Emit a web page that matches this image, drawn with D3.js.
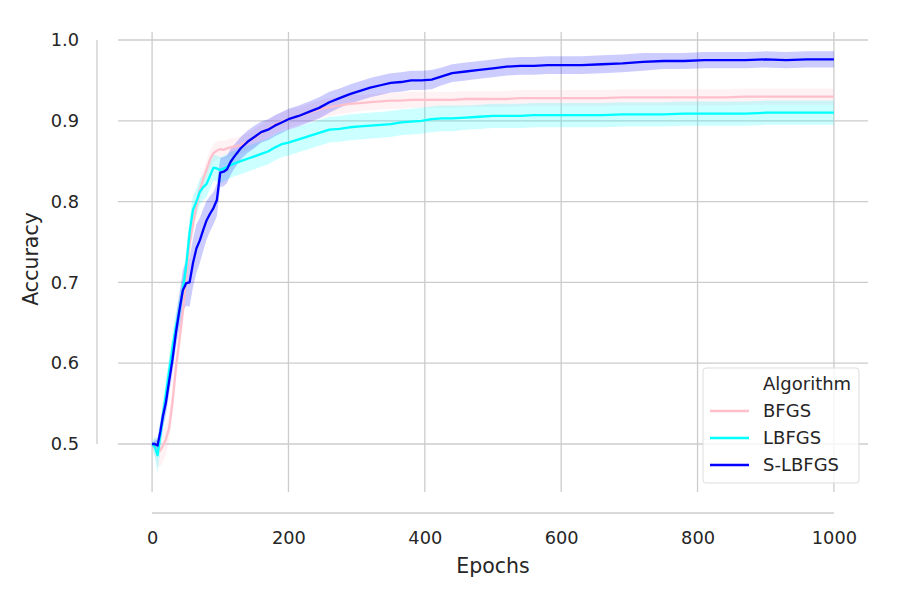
<!DOCTYPE html>
<html>
<head>
<meta charset="utf-8">
<script src="https://cdn.jsdelivr.net/npm/d3@7"></script>
<style>
  body { margin: 0; background: #fff; }
  text { font-family: "DejaVu Sans", sans-serif; fill: #262626; }
</style>
</head>
<body>
<div id="chart"></div>
<script>
// data
var epochs = [0, 4, 8, 12, 16, 20, 25, 30, 35, 40, 45, 50, 55, 60, 65, 70, 75, 80, 85, 90,
  95, 100, 105, 110, 115, 120, 130, 140, 150, 160, 170, 180, 190, 200, 215, 230, 245, 260,
  275, 290, 305, 320, 335, 350, 365, 380, 395, 410, 425, 440, 460, 480, 500, 520, 540, 560,
  580, 600, 630, 660, 690, 720, 750, 780, 810, 840, 870, 900, 930, 960, 1000];

var bfgs = [0.500, 0.495, 0.490, 0.492, 0.498, 0.505, 0.520, 0.552, 0.595, 0.628, 0.663, 0.705,
  0.748, 0.772, 0.795, 0.814, 0.828, 0.840, 0.852, 0.860, 0.863, 0.865, 0.864, 0.866, 0.867,
  0.868, 0.870, 0.874, 0.879, 0.885, 0.890, 0.895, 0.899, 0.902, 0.906, 0.910, 0.914, 0.917,
  0.919, 0.921, 0.922, 0.923, 0.924, 0.925, 0.925, 0.926, 0.926, 0.926, 0.926, 0.926, 0.927,
  0.927, 0.927, 0.927, 0.928, 0.928, 0.928, 0.928, 0.928, 0.928, 0.929, 0.929, 0.929, 0.929,
  0.929, 0.929, 0.930, 0.930, 0.930, 0.930, 0.930];
var bfgsSd = [0.004, 0.012, 0.018, 0.02, 0.02, 0.018, 0.016, 0.016, 0.016, 0.016, 0.016, 0.016,
  0.015, 0.014, 0.014, 0.013, 0.012, 0.012, 0.012, 0.011, 0.011, 0.011, 0.011, 0.011, 0.011,
  0.011, 0.011, 0.011, 0.011, 0.011, 0.011, 0.011, 0.011, 0.011, 0.011, 0.011, 0.011, 0.011,
  0.011, 0.011, 0.01, 0.01, 0.01, 0.01, 0.01, 0.01, 0.01, 0.01, 0.01, 0.01, 0.01, 0.01, 0.01,
  0.01, 0.01, 0.01, 0.01, 0.01, 0.01, 0.01, 0.01, 0.01, 0.01, 0.01, 0.01, 0.01, 0.01, 0.01,
  0.01, 0.01, 0.01];

var lbfgs = [0.500, 0.496, 0.486, 0.510, 0.535, 0.560, 0.590, 0.620, 0.645, 0.665, 0.690, 0.720,
  0.762, 0.790, 0.800, 0.812, 0.818, 0.822, 0.832, 0.842, 0.841, 0.839, 0.841, 0.843, 0.845,
  0.847, 0.850, 0.853, 0.856, 0.859, 0.862, 0.867, 0.871, 0.873, 0.877, 0.881, 0.885, 0.889,
  0.890, 0.892, 0.893, 0.894, 0.895, 0.896, 0.898, 0.899, 0.900, 0.902, 0.903, 0.903, 0.904,
  0.905, 0.906, 0.906, 0.906, 0.907, 0.907, 0.907, 0.907, 0.907, 0.908, 0.908, 0.908, 0.909,
  0.909, 0.909, 0.909, 0.910, 0.910, 0.910, 0.910];
var lbfgsSd = [0.004, 0.012, 0.022, 0.02, 0.018, 0.018, 0.018, 0.018, 0.018, 0.018, 0.018, 0.018,
  0.018, 0.017, 0.016, 0.016, 0.016, 0.016, 0.016, 0.016, 0.016, 0.016, 0.016, 0.016, 0.016,
  0.016, 0.016, 0.016, 0.016, 0.016, 0.016, 0.016, 0.016, 0.016, 0.016, 0.016, 0.016, 0.016,
  0.016, 0.016, 0.016, 0.016, 0.016, 0.016, 0.016, 0.016, 0.016, 0.016, 0.016, 0.016, 0.015,
  0.015, 0.015, 0.015, 0.015, 0.015, 0.015, 0.015, 0.015, 0.015, 0.015, 0.015, 0.015, 0.015,
  0.015, 0.015, 0.015, 0.015, 0.015, 0.015, 0.015];

var slbfgs = [0.500, 0.500, 0.498, 0.515, 0.535, 0.550, 0.578, 0.605, 0.638, 0.665, 0.690, 0.699,
  0.700, 0.724, 0.742, 0.752, 0.765, 0.777, 0.785, 0.792, 0.802, 0.836, 0.837, 0.840, 0.849,
  0.855, 0.866, 0.874, 0.880, 0.886, 0.889, 0.894, 0.898, 0.902, 0.906, 0.911, 0.916, 0.923,
  0.928, 0.933, 0.937, 0.941, 0.944, 0.947, 0.948, 0.950, 0.950, 0.951, 0.955, 0.959, 0.961,
  0.963, 0.965, 0.967, 0.968, 0.968, 0.969, 0.969, 0.969, 0.970, 0.971, 0.973, 0.974, 0.974,
  0.975, 0.975, 0.975, 0.976, 0.975, 0.976, 0.976];
var slbfgsSd = [0.002, 0.004, 0.008, 0.012, 0.014, 0.015, 0.016, 0.016, 0.018, 0.022, 0.025, 0.028,
  0.03, 0.03, 0.03, 0.028, 0.026, 0.024, 0.022, 0.02, 0.02, 0.018, 0.018, 0.017, 0.016,
  0.015, 0.014, 0.014, 0.014, 0.013, 0.013, 0.013, 0.013, 0.013, 0.013, 0.013, 0.013, 0.013,
  0.012, 0.012, 0.012, 0.012, 0.012, 0.012, 0.012, 0.012, 0.012, 0.012, 0.011, 0.011, 0.011,
  0.011, 0.011, 0.011, 0.011, 0.011, 0.011, 0.011, 0.011, 0.011, 0.011, 0.011, 0.01, 0.01,
  0.01, 0.01, 0.01, 0.01, 0.01, 0.01, 0.01];

var names = ["BFGS", "LBFGS", "S-LBFGS"];
var colors = ["#ffc0cb", "#00ffff", "#0000ff"];
var means = [bfgs, lbfgs, slbfgs];
var sds = [bfgsSd, lbfgsSd, slbfgsSd];
var xTicks = [0, 200, 400, 600, 800, 1000];
var yTicks = [0.5, 0.6, 0.7, 0.8, 0.9, 1.0];

// layout
var W = 900, H = 600;
var margin = {top: 32, right: 32, bottom: 108, left: 118},
    width = W - margin.left - margin.right,
    height = H - margin.top - margin.bottom;

var svg = d3.select("#chart")
  .append("svg")
    .attr("width", W)
    .attr("height", H)
  .append("g")
    .attr("transform", "translate(" + margin.left + "," + margin.top + ")");

var x = d3.scaleLinear()
  .domain([-50, 1050])
  .range([0, width]);
var y = d3.scaleLinear()
  .domain([0.4406, 1.0099])
  .range([height, 0]);

// grid
svg.append("g")
  .selectAll("line")
  .data(xTicks)
  .enter()
  .append("line")
    .attr("x1", function (d) { return x(d); })
    .attr("x2", function (d) { return x(d); })
    .attr("y1", 0)
    .attr("y2", height)
    .style("stroke", "#cccccc")
    .style("stroke-width", 1.3);
svg.append("g")
  .selectAll("line")
  .data(yTicks)
  .enter()
  .append("line")
    .attr("x1", 0)
    .attr("x2", width)
    .attr("y1", function (d) { return y(d); })
    .attr("y2", function (d) { return y(d); })
    .style("stroke", "#cccccc")
    .style("stroke-width", 1.3);

// offset axes (seaborn despine style)
var xAxis = svg.append("g")
  .attr("transform", "translate(0," + (height + 21) + ")")
  .call(d3.axisBottom(x).tickValues(xTicks).tickSize(0).tickPadding(18.5)
    .tickFormat(d3.format("d")));
var yAxis = svg.append("g")
  .attr("transform", "translate(-21,0)")
  .call(d3.axisLeft(y).tickValues(yTicks).tickSize(0).tickPadding(18)
    .tickFormat(d3.format(".1f")));

xAxis.select(".domain").attr("d", "M" + x(0) + ",0H" + x(1000));
yAxis.select(".domain").attr("d", "M0," + y(0.5) + "V" + y(1.0));
[xAxis, yAxis].forEach(function (a) {
  a.select(".domain").style("stroke", "#cccccc").style("stroke-width", 1.3);
  a.selectAll("text")
    .style("font-size", "17.8px")
    .style("fill", "#262626")
    .style("font-family", "DejaVu Sans, sans-serif");
});

// axis labels
svg.append("text")
  .attr("x", x(500))
  .attr("y", 541)
  .attr("text-anchor", "middle")
  .style("font-size", "20.5px")
  .text("Epochs");
svg.append("text")
  .attr("transform", "translate(" + (38 - margin.left) + "," + (259 - margin.top) + ") rotate(-90)")
  .attr("text-anchor", "middle")
  .style("font-size", "20.5px")
  .text("Accuracy");

// bands and lines
var rows = epochs.map(function (e, i) { return i; });
names.forEach(function (name, k) {
  var band = d3.area()
    .x(function (i) { return x(epochs[i]); })
    .y0(function (i) { return y(means[k][i] - sds[k][i]); })
    .y1(function (i) { return y(means[k][i] + sds[k][i]); });
  svg.append("path")
    .datum(rows)
    .attr("d", band)
    .style("fill", colors[k])
    .style("fill-opacity", 0.2)
    .style("stroke", "none");
});
names.forEach(function (name, k) {
  var line = d3.line()
    .x(function (i) { return x(epochs[i]); })
    .y(function (i) { return y(means[k][i]); });
  svg.append("path")
    .datum(rows)
    .attr("d", line)
    .style("fill", "none")
    .style("stroke", colors[k])
    .style("stroke-width", 2.3)
    .style("stroke-linejoin", "round");
});

// legend
var lg = svg.append("g")
  .attr("transform", "translate(" + (703 - margin.left) + "," + (368 - margin.top) + ")");
lg.append("rect")
  .attr("width", 156)
  .attr("height", 115)
  .attr("rx", 3)
  .style("fill", "#ffffff")
  .style("fill-opacity", 0.8)
  .style("stroke", "#dddddd")
  .style("stroke-width", 1);
lg.append("text")
  .attr("x", 60)
  .attr("y", 16)
  .attr("dy", "0.35em")
  .style("font-size", "18px")
  .text("Algorithm");
names.forEach(function (name, k) {
  var cy = 43 + k * 27;
  lg.append("line")
    .attr("x1", 7)
    .attr("x2", 46)
    .attr("y1", cy)
    .attr("y2", cy)
    .style("stroke", colors[k])
    .style("stroke-width", 2.3);
  lg.append("text")
    .attr("x", 60)
    .attr("y", cy)
    .attr("dy", "0.35em")
    .style("font-size", "18px")
    .text(name);
});
</script>
</body>
</html>
